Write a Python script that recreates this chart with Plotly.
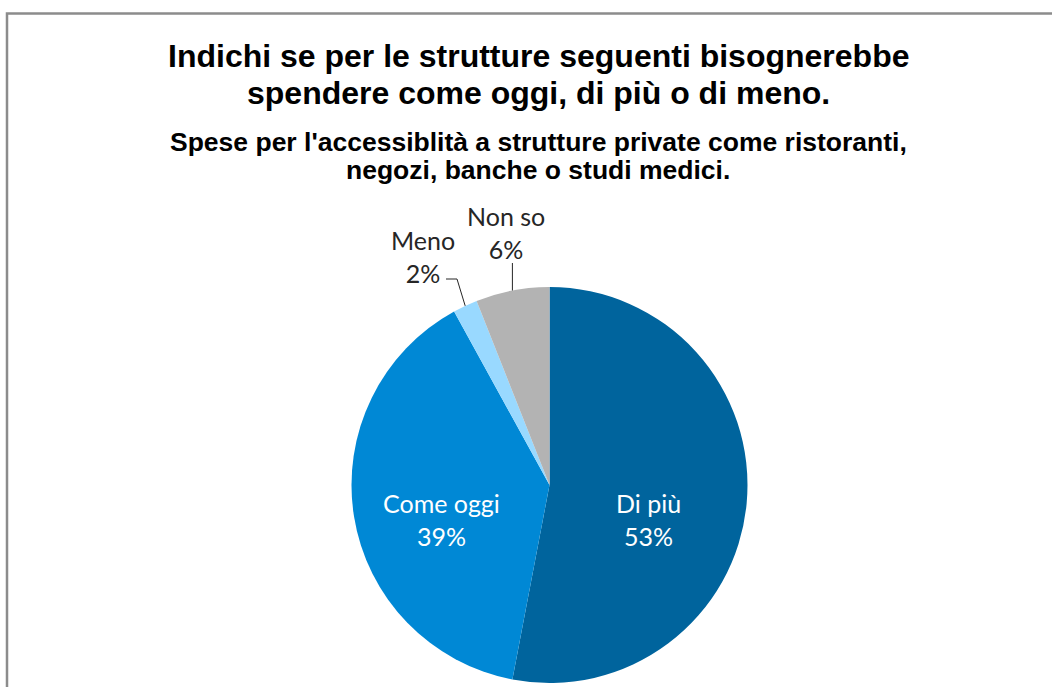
import math
import plotly.graph_objects as go

W, H = 1052, 687

# ---- data ----
categories = ["Di più", "Come oggi", "Meno", "Non so"]
values = [53, 39, 2, 6]
colors = ["#00649D", "#0088D5", "#99D9FF", "#B3B3B3"]
title_lines = ["Indichi se per le strutture seguenti bisognerebbe",
               "spendere come oggi, di più o di meno."]
subtitle_lines = ["Spese per l'accessiblità a strutture private come ristoranti,",
                  "negozi, banche o studi medici."]
inside = [True, True, False, False]

# ---- layout geometry (pixels) ----
cx, cy, R = 549.5, 485.0, 198.0

def px(x):
    return x / W

def py(y):
    return 1 - y / H

fig = go.Figure(go.Pie(
    labels=categories,
    values=values,
    sort=False,
    direction="clockwise",
    rotation=0,
    marker=dict(colors=colors, line=dict(width=0)),
    textinfo="none",
    hoverinfo="label+percent",
    domain=dict(x=[px(cx - R), px(cx + R)], y=[py(cy + R), py(cy - R)]),
    showlegend=False,
))

annotations = []
shapes = []

# frame
shapes.append(dict(type="rect", xref="paper", yref="paper",
                   x0=px(7), x1=1.02, y0=-0.02, y1=py(13.5),
                   line=dict(color="#8C8C8C", width=2.5), fillcolor="rgba(0,0,0,0)", layer="below"))

# titles
for i, t in enumerate(title_lines):
    annotations.append(dict(text=f"<b>{t}</b>", x=px(538), y=py(56 + 37 * i), xref="paper", yref="paper",
                            showarrow=False, xanchor="center", yanchor="middle",
                            font=dict(family="Liberation Sans", size=32, color="black")))
for i, t in enumerate(subtitle_lines):
    annotations.append(dict(text=f"<b>{t}</b>", x=px(538), y=py(142 + 28 * i), xref="paper", yref="paper",
                            showarrow=False, xanchor="center", yanchor="middle",
                            font=dict(family="Liberation Sans", size=26.5, color="black")))

# slice labels
total = sum(values)
cum = 0
label_pos = {"Di più": (648, 519), "Come oggi": (441, 519), "Meno": (423, 256), "Non so": (506, 232)}
for c, v, ins in zip(categories, values, inside):
    mid = (cum + v / 2) / total * 2 * math.pi
    cum += v
    lx, ly = label_pos[c]
    annotations.append(dict(text=f"{c}<br>{v}%", x=px(lx), y=py(ly), xref="paper", yref="paper",
                            showarrow=False, xanchor="center", yanchor="middle",
                            font=dict(family="Lato", size=25, color="white" if ins else "#262626")))
    if ins:
        continue
    tx = cx + R * math.sin(mid)
    ty = cy - R * math.cos(mid)
    if c == "Meno":
        path = f"M {px(446)} {py(279)} L {px(457)} {py(279)} L {px(tx)} {py(ty)}"
    else:
        path = f"M {px(tx)} {py(263)} L {px(tx)} {py(ty)}"
    shapes.append(dict(type="path", xref="paper", yref="paper", path=path,
                       line=dict(color="#262626", width=1)))

fig.update_layout(
    width=W, height=H,
    margin=dict(l=0, r=0, t=0, b=0),
    paper_bgcolor="white", plot_bgcolor="white",
    annotations=annotations, shapes=shapes,
)

fig.write_html("out.html", config={"displayModeBar": False},
               post_script="document.body.style.margin='0';")
